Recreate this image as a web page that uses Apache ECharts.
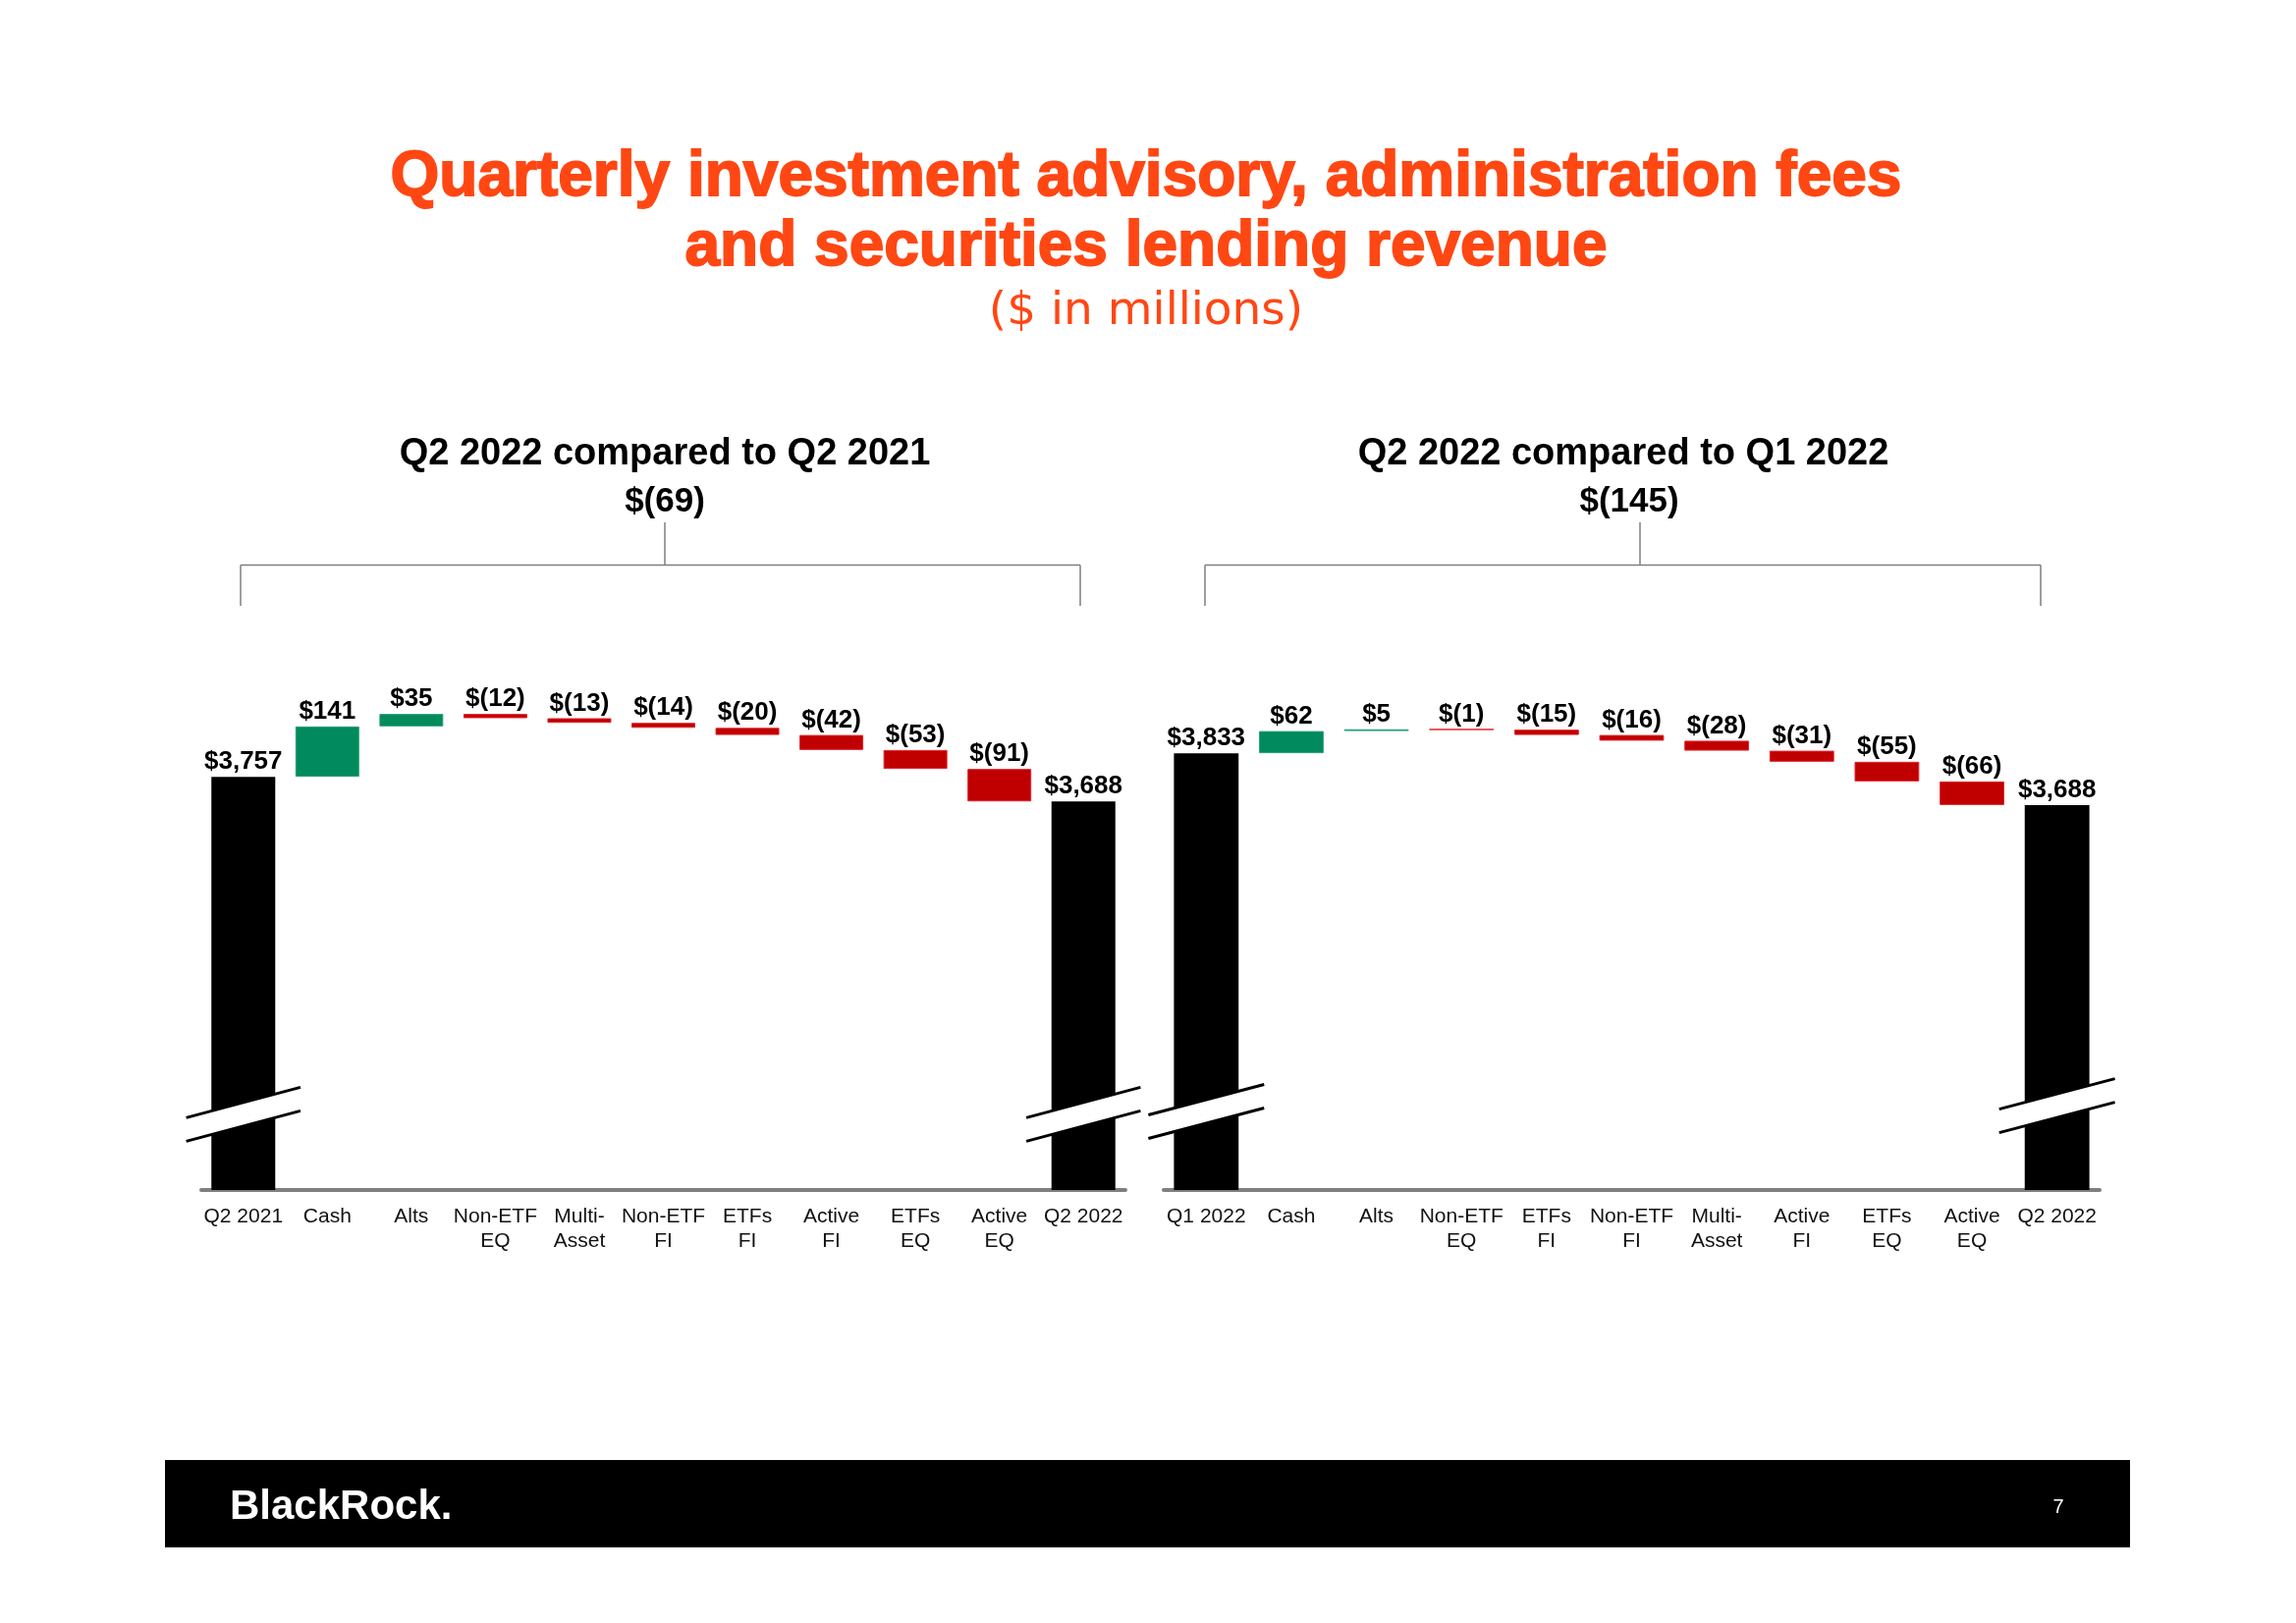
<!DOCTYPE html>
<html><head><meta charset="utf-8">
<script src="https://cdn.jsdelivr.net/npm/echarts@6/dist/echarts.min.js"></script>
<style>html,body{margin:0;padding:0;background:#fff}#c{width:2338px;height:1653px}</style>
</head><body><div id="c"></div>
<script>
// ---- data ----
const leftCategories = ['Q2 2021','Cash','Alts','Non-ETF\nEQ','Multi-\nAsset','Non-ETF\nFI','ETFs\nFI','Active\nFI','ETFs\nEQ','Active\nEQ','Q2 2022'];
const leftValues = [3757, 141, 35, -12, -13, -14, -20, -42, -53, -91, 3688];
const rightCategories = ['Q1 2022','Cash','Alts','Non-ETF\nEQ','ETFs\nFI','Non-ETF\nFI','Multi-\nAsset','Active\nFI','ETFs\nEQ','Active\nEQ','Q2 2022'];
const rightValues = [3833, 62, 5, -1, -15, -16, -28, -31, -55, -66, 3688];
const leftTitle = 'Q2 2022 compared to Q2 2021';
const rightTitle = 'Q2 2022 compared to Q1 2022';
// axis-break marker positions (value units) on the total bars
const leftBreaks = [2812, 2812];
const rightBreaks = [2830, 2846];

const FONT = '"Liberation Sans", Arial, sans-serif';
const ORANGE = '#FF4713';
const GREEN = '#008A5E';
const RED = '#C00000';

function fmt(v){
  const a = Math.abs(v).toLocaleString('en-US');
  return v < 0 ? '$(' + a + ')' : '$' + a;
}
function build(values){
  const n = values.length, base = [], delta = [], total = [];
  let cum = values[0];
  for (let i = 0; i < n; i++){
    if (i === 0 || i === n - 1){ base.push('-'); delta.push('-'); total.push(values[i]); }
    else {
      const d = values[i];
      const up = d >= 0;
      base.push(up ? cum : cum + d);
      delta.push({value: Math.abs(d), itemStyle:{
        color: up ? GREEN : RED,
        borderColor: up ? '#2FA07A' : '#E0262E',
        borderWidth: 1}});
      cum += d; total.push('-');
    }
  }
  return {base, delta, total};
}

function seriesFor(g, values, breaks){
  const b = build(values);
  const n = values.length;
  const common = {type:'bar', xAxisIndex:g, yAxisIndex:g, barWidth:'76%', barGap:'-100%'};
  const labelBase = {show:true, position:'top', distance:2, color:'#000', fontFamily:FONT, fontWeight:'bold', fontSize:26};
  return [
    Object.assign({}, common, {name:'base'+g, stack:'w'+g, data:b.base, silent:true,
      itemStyle:{color:'rgba(0,0,0,0)'}, label:{show:false}}),
    Object.assign({}, common, {name:'delta'+g, stack:'w'+g, data:b.delta,
      label:Object.assign({}, labelBase, {formatter:(p)=>fmt(values[p.dataIndex])})}),
    Object.assign({}, common, {name:'total'+g, data:b.total, itemStyle:{color:'#000'},
      label:Object.assign({}, labelBase, {formatter:(p)=>fmt(values[p.dataIndex])})}),
    {type:'custom', xAxisIndex:g, yAxisIndex:g, z:10, silent:true, clip:false,
      data:[[0, breaks[0]], [n-1, breaks[1]]],
      renderItem:function(params, api){
        const c = api.coord([api.value(0), api.value(1)]);
        const hl = api.size([1,0])[0] * 0.68;
        const dy = 15.5, gap = 24;
        const x1 = c[0]-hl, x2 = c[0]+hl;
        const uy1 = c[1]-gap/2+dy, uy2 = c[1]-gap/2-dy;
        const ly1 = uy1+gap, ly2 = uy2+gap;
        return {type:'group', children:[
          {type:'polygon', shape:{points:[[x1,uy1],[x2,uy2],[x2,ly2],[x1,ly1]]}, style:{fill:'#fff'}},
          {type:'line', shape:{x1:x1,y1:uy1,x2:x2,y2:uy2}, style:{stroke:'#000', lineWidth:3}},
          {type:'line', shape:{x1:x1,y1:ly1,x2:x2,y2:ly2}, style:{stroke:'#000', lineWidth:3}}
        ]};
      }}
  ];
}

function xAxisFor(g, cats){
  return {type:'category', gridIndex:g, data:cats,
    axisLine:{show:true, lineStyle:{color:'#7F7F7F', width:4}},
    axisTick:{show:false},
    axisLabel:{interval:0, fontFamily:FONT, fontSize:21, lineHeight:25, margin:15, color:'#111'}};
}

const chart = echarts.init(document.getElementById('c'), null, {renderer:'canvas'});

const lChange = leftValues[leftValues.length-1] - leftValues[0];
const rChange = rightValues[rightValues.length-1] - rightValues[0];

function bracket(xl, xr, xc){
  const st = {stroke:'#7F7F7F', lineWidth:1.5};
  return [
    {type:'line', shape:{x1:xl, y1:575.5, x2:xr, y2:575.5}, style:st},
    {type:'line', shape:{x1:xc, y1:532, x2:xc, y2:575.5}, style:st},
    {type:'line', shape:{x1:xl, y1:575.5, x2:xl, y2:617}, style:st},
    {type:'line', shape:{x1:xr, y1:575.5, x2:xr, y2:617}, style:st}
  ];
}

const graphics = [
  {type:'text', x:1167, y:181, style:{text:'Quarterly investment advisory, administration fees', font:'bold 64px '+FONT, fill:ORANGE, stroke:ORANGE, lineWidth:1.8, align:'center', verticalAlign:'middle'}},
  {type:'text', x:1167, y:252, style:{text:'and securities lending revenue', font:'bold 64px '+FONT, fill:ORANGE, stroke:ORANGE, lineWidth:1.8, align:'center', verticalAlign:'middle'}},
  {type:'text', x:1167, y:318, style:{text:'($ in millions)', font:'47px "DejaVu Sans", sans-serif', fill:ORANGE, align:'center', verticalAlign:'middle'}},
  {type:'text', x:677, y:463, style:{text:leftTitle, font:'bold 38px '+FONT, fill:'#000', align:'center', verticalAlign:'middle'}},
  {type:'text', x:677, y:511, style:{text:fmt(lChange), font:'bold 35px '+FONT, fill:'#000', align:'center', verticalAlign:'middle'}},
  {type:'text', x:1653, y:463, style:{text:rightTitle, font:'bold 38px '+FONT, fill:'#000', align:'center', verticalAlign:'middle'}},
  {type:'text', x:1659, y:511, style:{text:fmt(rChange), font:'bold 35px '+FONT, fill:'#000', align:'center', verticalAlign:'middle'}},
  ...bracket(245, 1100, 677),
  ...bracket(1227, 2078, 1670),
  {type:'rect', shape:{x:168, y:1487, width:2001, height:89}, style:{fill:'#000'}},
  {type:'text', x:234, y:1535, style:{text:'BlackRock.', font:'bold 42px '+FONT, fill:'#fff', align:'left', verticalAlign:'middle'}},
  {type:'text', x:2096, y:1535, style:{text:'7', font:'20px '+FONT, fill:'#fff', align:'center', verticalAlign:'middle'}}
];

chart.setOption({
  animation:false,
  backgroundColor:'#fff',
  grid:[
    {left:205, width:941, top:630, bottom:441},
    {left:1185, width:953, top:630, bottom:441}
  ],
  xAxis:[xAxisFor(0, leftCategories), xAxisFor(1, rightCategories)],
  yAxis:[
    {type:'value', gridIndex:0, min:2600, max:4200, show:false, splitLine:{show:false}},
    {type:'value', gridIndex:1, min:2610, max:4210, show:false, splitLine:{show:false}}
  ],
  series:[...seriesFor(0, leftValues, leftBreaks), ...seriesFor(1, rightValues, rightBreaks)],
  graphic:graphics
});
</script></body></html>
